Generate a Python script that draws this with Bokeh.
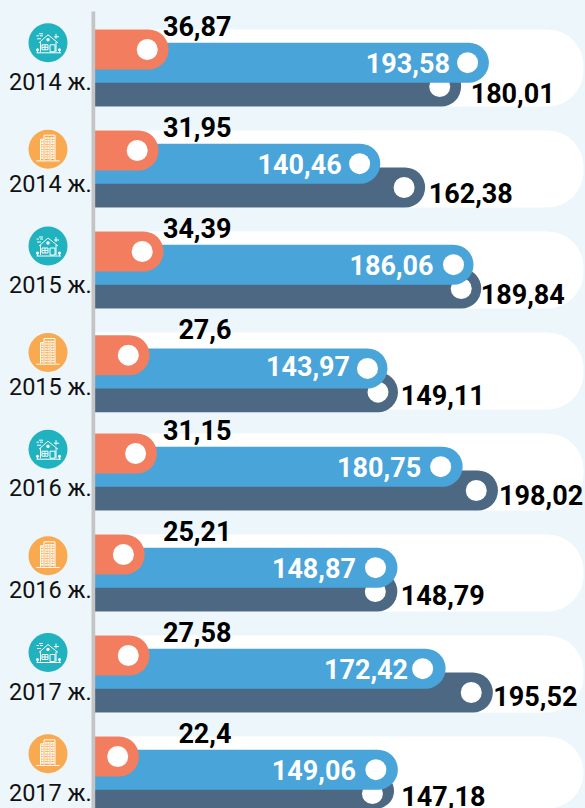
from bokeh.plotting import figure
from bokeh.models import Range1d, ColumnDataSource
from bokeh.core.properties import value
from bokeh.embed import file_html
from bokeh.resources import INLINE

years = ["2014 ж.", "2014 ж.", "2015 ж.", "2015 ж.", "2016 ж.", "2016 ж.", "2017 ж.", "2017 ж."]
kinds = ["house", "tower", "house", "tower", "house", "tower", "house", "tower"]
orange_vals = [36.87, 31.95, 34.39, 27.6, 31.15, 25.21, 27.58, 22.4]
blue_vals = [193.58, 140.46, 186.06, 143.97, 180.75, 148.87, 172.42, 149.06]
dark_vals = [180.01, 162.38, 189.84, 149.11, 198.02, 148.79, 195.52, 147.18]

ORANGE, BLUE, DARK = "#F27E5F", "#48A4D9", "#4D6882"
BG, TEAL, AMBER, AXIS = "#EDF6FB", "#20B2BE", "#F9A94F", "#C4C4C4"
W, H, X0, SX, Y0, ROW = 585, 808, 92.7, 2.044, 29, 101
FONT = value("Roboto")

# layout irregularities of the original, in pixels
bar_shift = [0, 0, 0, 2.7, 0, 0, 0, 0]
orange_dot = [21.3] * 8
blue_dot = [21.3, 20.7, 20, 20, 22, 22, 23, 22]
dark_dot = [21.4, 21, 20, 20, 21.7, 22, 21.6, 21.6]
blue_gap = [39, 38.6, 40, 37.4, 41.5, 41.5, 37.6, 42]
dark_gap = [9.5, 3.6, -0.5, 2.7, 1.1, 3.4, 0.5, 7.3]
dark_label_y = [92, 192, 293, 394, 494, 594, 695.5, 795.5]
icon_y = [42.3, 148.7, 245.5, 352, 448.7, 555.3, 652, 753.3]
year_y = [81, 183, 284, 386, 487, 589, 691, 792]

def fmt(v):
    return str(v).replace(".", ",")

def px(n):
    return n / SX

def py(n):
    return n / ROW

def dx(x):
    return (x - X0) / SX

def dy(y):
    return (y - Y0) / ROW

n = len(years)
rows = list(range(n))
p = figure(width=W, height=H, output_backend="svg", toolbar_location=None,
           x_range=Range1d(-X0 / SX, (W - X0) / SX),
           y_range=Range1d((H - Y0) / ROW, -Y0 / ROW),
           x_axis_location=None, y_axis_location=None,
           min_border=0, outline_line_color=None,
           background_fill_color=BG, border_fill_color=BG)
p.grid.visible = False

# white tracks
p.hbar(y=[r + py(38.5) for r in rows], left=dx(94), right=[dx(583)] * n, height=py(77),
       fill_color="white", line_color=None, border_radius=(0, 36, 36, 0))

def series(vals, off, color, dots):
    s = ColumnDataSource(dict(y=[r + py(off + b) for r, b in zip(rows, bar_shift)], v=vals,
                              dot=[v - px(d) for v, d in zip(vals, dots)]))
    p.hbar(y="y", left=dx(94), right="v", height=py(40), source=s, fill_color=color, line_color=None,
           border_radius=(0, 20, 20, 0))
    p.scatter(x="dot", y="y", source=s, size=21, fill_color="white", line_color=None)

series(dark_vals, 57, DARK, dark_dot)
series(blue_vals, 33.2, BLUE, blue_dot)
series(orange_vals, 20, ORANGE, orange_dot)

# value labels
p.text(x=[dx(231)] * n, y=[r - py(4) for r in rows], text=[fmt(v) for v in orange_vals],
       text_font=FONT, text_font_style="bold", text_font_size="27px", text_color="black",
       text_align="right", text_baseline="middle")
p.text(x=[b - px(g) for b, g in zip(blue_vals, blue_gap)], y=[r + py(33) for r in rows],
       text=[fmt(v) for v in blue_vals],
       text_font=FONT, text_font_style="bold", text_font_size="27px", text_color="white",
       text_align="right", text_baseline="middle")
p.text(x=[d + px(g) for d, g in zip(dark_vals, dark_gap)], y=[dy(y) for y in dark_label_y],
       text=[fmt(v) for v in dark_vals],
       text_font=FONT, text_font_style="bold", text_font_size="27px", text_color="black",
       text_align="left", text_baseline="middle")
# year labels
p.text(x=[dx(91.3)] * n, y=[dy(y) for y in year_y], text=years,
       text_font=FONT, text_font_size="23.5px", text_color="#111111",
       text_align="right", text_baseline="middle")

# axis bar
p.quad(left=dx(91), right=dx(94.7), top=dy(11), bottom=dy(H), fill_color=AXIS, line_color=None)

# pictograms, drawn in pixels relative to each badge's centre
HOUSE_LINES = [
    [(-9, 0), (0, -8), (10, 0)], [(-7.5, -1), (-7.5, 9)], [(8, -1), (8, 9)],
    [(-11.5, 10), (13, 10)],
    [(-6, 2), (0, 2), (0, 7), (-6, 7), (-6, 2)], [(-3, 2), (-3, 7)], [(-6, 4.5), (0, 4.5)],
    [(2, 2), (7, 2), (7, 9), (2, 9), (2, 2)],
    [(-11.5, -7), (-9, -7)], [(-8, -7), (-5, -7)], [(-11, -4), (-7, -4)], [(-9, -9), (-5, -9)],
    [(6, -6), (11, -6)], [(8, -9), (8, -4)],
    [(-10.5, 7), (-10.5, 10)], [(11.5, 7), (11.5, 10)],
]
HOUSE_DOTS = [(0, -3, 3.5), (-10.5, 7, 3), (11.5, 7, 3)]
TOWER_LINES = [
    [(-7.5, 11), (-7.5, -10), (-4, -10)],
    [(-4, 11), (-4, -14), (7, -14), (7, 11)],
    [(2, -12), (2, 11)],
    [(-11.7, 11.7), (11.7, 11.7)],
]
TOWER_COLS = [-5.8, -2, 0.2, 3.6, 5.5]
TOWER_ROWS = [-11, -8.5, -6, -3.5, -1, 1.5, 4, 6.5, 9]

cx = 47.5
for k, cy in zip(kinds, icon_y):
    p.scatter([dx(cx)], [dy(cy)], size=39, fill_color=TEAL if k == "house" else AMBER, line_color=None)
    lines = HOUSE_LINES if k == "house" else TOWER_LINES
    p.multi_line([[dx(cx + a) for a, _ in l] for l in lines],
                 [[dy(cy + b) for _, b in l] for l in lines],
                 line_color="white", line_width=1)
    if k == "house":
        p.scatter([dx(cx + a) for a, _, _ in HOUSE_DOTS], [dy(cy + b) for _, b, _ in HOUSE_DOTS],
                  size=[s for _, _, s in HOUSE_DOTS], fill_color="white", line_color=None)
    else:
        xs = [dx(cx + c) for c in TOWER_COLS for t in TOWER_ROWS if not (c == -5.8 and t < -9)]
        ys = [dy(cy + t) for c in TOWER_COLS for t in TOWER_ROWS if not (c == -5.8 and t < -9)]
        p.scatter(xs, ys, marker="square", size=1.7, fill_color="white", line_color=None)

html = file_html(p, INLINE)
html = html.replace("<head>", "<head><style>html,body{margin:0;padding:0;background:%s;overflow:hidden}</style>" % BG, 1)
open("out.html", "w").write(html)
